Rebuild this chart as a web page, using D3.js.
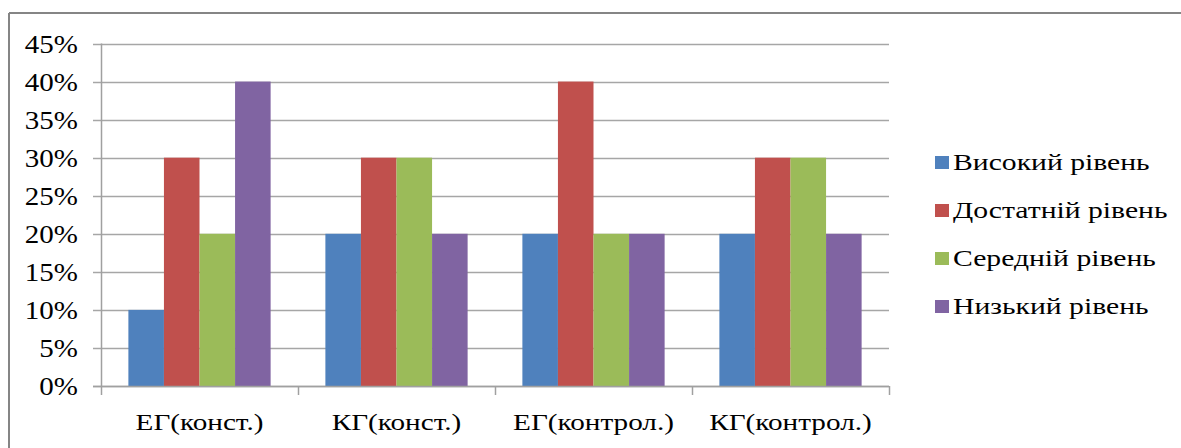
<!DOCTYPE html>
<html><head><meta charset="utf-8">
<script src="https://cdn.jsdelivr.net/npm/d3@7"></script>
<style>
body{margin:0;background:#fff;}
svg{display:block;}
</style></head>
<body>
<script>
const categories = ["ЕГ(конст.)", "КГ(конст.)", "ЕГ(контрол.)", "КГ(контрол.)"];
const seriesNames = ["Високий рівень", "Достатній рівень", "Середній рівень", "Низький рівень"];
const seriesColors = ["#4F81BD", "#C0504D", "#9BBB59", "#8064A2"];
const values = [
  [10, 20, 20, 20],
  [30, 30, 40, 30],
  [20, 30, 20, 30],
  [40, 20, 20, 20]
];
const yTicks = [0, 5, 10, 15, 20, 25, 30, 35, 40, 45];

const W = 1181, H = 448;
const FONT = '"Liberation Serif", "Times New Roman", Tinos, monospace';
const svg = d3.select("body").append("svg").attr("width", W).attr("height", H);

svg.append("line").attr("x1", 9).attr("x2", W).attr("y1", 13).attr("y2", 13).attr("stroke", "#858585").attr("stroke-width", 2);
svg.append("line").attr("x1", 9).attr("x2", 9).attr("y1", 13).attr("y2", H).attr("stroke", "#858585").attr("stroke-width", 2);

const plot = {left: 101, right: 889, top: 43.5, bottom: 386};
const x0 = d3.scaleBand().domain(categories).range([plot.left, plot.right]).paddingInner(0).paddingOuter(0);
const x1 = d3.scaleBand().domain(seriesNames).range([0, x0.bandwidth()]).paddingOuter(0.77).paddingInner(0);
const y = d3.scaleLinear().domain([0, 45]).range([plot.bottom, plot.top]);

// gridlines
svg.append("g").selectAll("line").data(yTicks).join("line")
  .attr("x1", plot.left - 8).attr("x2", plot.right)
  .attr("y1", d => Math.round(y(d)) + 0.5).attr("y2", d => Math.round(y(d)) + 0.5)
  .attr("stroke", "#a6a6a6").attr("stroke-width", 1.5);

// y axis line
svg.append("line").attr("x1", plot.left + 0.5).attr("x2", plot.left + 0.5)
  .attr("y1", plot.top).attr("y2", plot.bottom).attr("stroke", "#a0a0a0").attr("stroke-width", 1.5);

// y labels
svg.append("g").selectAll("text").data(yTicks).join("text")
  .attr("text-anchor", "end")
  .style("font-family", FONT)
  .attr("font-size", 25)
  .attr("transform", d => `translate(78,${y(d) + 9}) scale(1.16,1)`)
  .text(d => d + "%");

// bars
const groups = svg.append("g").selectAll("g").data(categories).join("g")
  .attr("transform", c => `translate(${x0(c)},0)`);
groups.selectAll("rect").data((c, ci) => seriesNames.map((s, si) => ({s, si, v: values[si][ci]})))
  .join("rect")
  .attr("x", d => x1(d.s)).attr("width", x1.bandwidth())
  .attr("y", d => y(d.v)).attr("height", d => y(0) - y(d.v))
  .attr("fill", d => seriesColors[d.si]);

// x axis line and ticks
svg.append("line").attr("x1", plot.left - 8).attr("x2", plot.right)
  .attr("y1", plot.bottom + 0.5).attr("y2", plot.bottom + 0.5).attr("stroke", "#a0a0a0").attr("stroke-width", 1.5);
const tickXs = categories.map(c => x0(c)).concat([plot.right]);
svg.append("g").selectAll("line").data(tickXs).join("line")
  .attr("x1", d => d + 0.5).attr("x2", d => d + 0.5)
  .attr("y1", plot.bottom).attr("y2", plot.bottom + 9)
  .attr("stroke", "#a0a0a0").attr("stroke-width", 1.5);

// category labels
svg.append("g").selectAll("text").data(categories).join("text")
  .attr("text-anchor", "middle")
  .style("font-family", FONT)
  .attr("font-size", 23)
  .attr("transform", c => `translate(${x0(c) + x0.bandwidth() / 2},430) scale(1.27,1)`)
  .text(c => c);

// legend
const leg = svg.append("g").selectAll("g").data(seriesNames).join("g")
  .attr("transform", (d, i) => `translate(935,${169 + i * 48})`);
leg.append("rect").attr("x", 0).attr("y", -13).attr("width", 14).attr("height", 13)
  .attr("fill", (d, i) => seriesColors[i]);
leg.append("text").attr("transform", "translate(18,1) scale(1.29,1)")
  .style("font-family", FONT)
  .attr("font-size", 23).text(d => d);
</script>
</body></html>
